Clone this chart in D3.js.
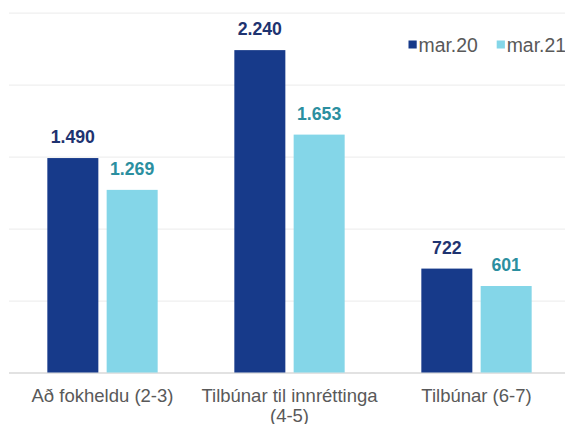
<!DOCTYPE html>
<html>
<head>
<meta charset="utf-8">
<script src="https://cdn.jsdelivr.net/npm/d3@7"></script>
<style>
  html, body { margin: 0; padding: 0; background: #fff; }
  svg { display: block; font-family: "Liberation Sans", Arial, sans-serif; }
</style>
</head>
<body>
<svg id="chart" width="565" height="424"></svg>
<script>
const categories = ["Að fokheldu (2-3)", "Tilbúnar til innréttinga (4-5)", "Tilbúnar (6-7)"];
const categoryLines = [["Að fokheldu (2-3)"], ["Tilbúnar til innréttinga", "(4-5)"], ["Tilbúnar (6-7)"]];
const seriesNames = ["mar.20", "mar.21"];
const mar20 = [1490, 2240, 722];
const mar21 = [1269, 1653, 601];
const yTicks = [0, 500, 1000, 1500, 2000, 2500];

const barColors = ["#173A8A", "#84D6E8"];
const labelColors = ["#1E3370", "#2B8FA0"];

const svg = d3.select("#chart");
const W = 565, H = 424;
const plotLeft = 9, plotRight = 570;

const y = d3.scaleLinear().domain([0, 2500]).range([372.5, 12.7]);
const x0 = d3.scaleBand().domain(categories).range([plotLeft, plotRight])
  .paddingInner(0.41).paddingOuter(0.205);
const x1 = d3.scaleBand().domain(seriesNames).range([0, x0.bandwidth()]).paddingInner(0.14);

const loc = d3.formatLocale({decimal: ",", thousands: ".", grouping: [3], currency: ["", ""]});
const fmt = loc.format(",d");

// gridlines
const yAxis = d3.axisLeft(y).tickValues(yTicks).tickSize(-(W - plotLeft)).tickFormat("");
const g = svg.append("g").attr("transform", `translate(${plotLeft},0)`).call(yAxis);
g.select(".domain").remove();
g.selectAll(".tick line")
  .attr("stroke", d => d === 0 ? "#D9D9D9" : "#EFEFEF")
  .attr("stroke-width", d => d === 0 ? 1.5 : 1.3);

const data = categories.map((c, i) => ({cat: c, vals: [mar20[i], mar21[i]]}));

const groups = svg.append("g").selectAll("g").data(data).join("g")
  .attr("transform", d => `translate(${x0(d.cat)},0)`);

groups.selectAll("rect").data(d => d.vals.map((v, j) => ({s: seriesNames[j], v, j}))).join("rect")
  .attr("x", d => x1(d.s))
  .attr("width", x1.bandwidth())
  .attr("y", d => y(d.v))
  .attr("height", d => y(0) - y(d.v))
  .attr("fill", d => barColors[d.j]);

groups.selectAll("text.lbl").data(d => d.vals.map((v, j) => ({s: seriesNames[j], v, j}))).join("text")
  .attr("class", "lbl")
  .attr("x", d => x1(d.s) + x1.bandwidth() / 2)
  .attr("y", d => y(d.v) - 15)
  .attr("text-anchor", "middle")
  .attr("font-size", "17.7px")
  .attr("font-weight", "bold")
  .attr("fill", d => labelColors[d.j])
  .text(d => fmt(d.v));

// x axis labels
const xl = svg.append("g").selectAll("text").data(categories).join("text")
  .attr("x", d => x0(d) + x0.bandwidth() / 2)
  .attr("y", 402)
  .attr("text-anchor", "middle")
  .attr("font-size", "18.5px")
  .attr("fill", "#595959");
xl.each(function(d, i) {
  const t = d3.select(this);
  categoryLines[i].forEach((line, k) => {
    t.append("tspan").attr("x", x0(d) + x0.bandwidth() / 2).attr("dy", k === 0 ? 0 : 19.5).text(line);
  });
});

// legend
const legendX = [408.5, 496.7];
const lg = svg.append("g").selectAll("g").data(seriesNames).join("g")
  .attr("transform", (d, i) => `translate(${legendX[i]},40.5)`);
lg.append("rect").attr("width", 8.2).attr("height", 8).attr("fill", (d, i) => barColors[i]);
lg.append("text").attr("x", 10).attr("y", 11.2).attr("font-size", "19.4px").attr("fill", "#595959").text(d => d);
</script>
</body>
</html>
